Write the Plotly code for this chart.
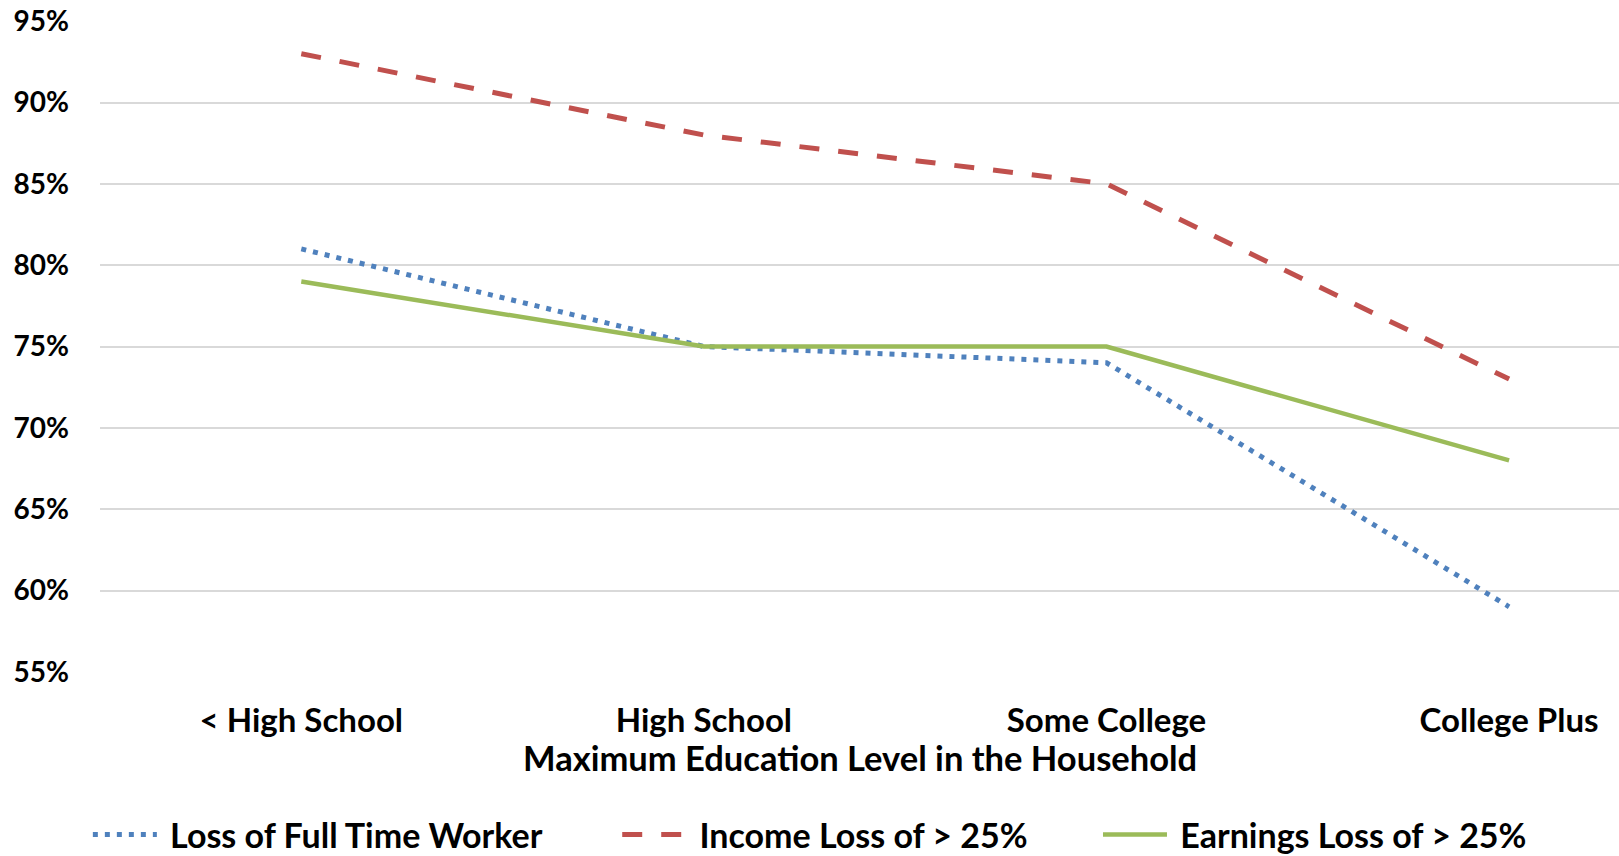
import plotly.graph_objects as go

categories = ["< High School", "High School", "Some College", "College Plus"]
loss_full_time = [0.81, 0.75, 0.74, 0.59]
income_loss = [0.93, 0.88, 0.85, 0.73]
earnings_loss = [0.79, 0.75, 0.75, 0.68]
series_names = ["Loss of Full Time Worker", "Income Loss of > 25%", "Earnings Loss of > 25%"]
y_ticks = [0.55, 0.60, 0.65, 0.70, 0.75, 0.80, 0.85, 0.90, 0.95]
y_tick_labels = ["55%", "60%", "65%", "70%", "75%", "80%", "85%", "90%", "95%"]

FONT = "Lato"
NBSP = "\u00a0"
xpos = list(range(len(categories)))

fig = go.Figure()
fig.add_trace(go.Scatter(
    x=xpos, y=loss_full_time, mode="lines", name=NBSP + series_names[0],
    line=dict(color="#4F81BD", width=5, dash="5px,7px"), legend="legend"))
fig.add_trace(go.Scatter(
    x=xpos, y=income_loss, mode="lines", name=NBSP + series_names[1],
    line=dict(color="#C0504D", width=5, dash="20px,19px"), legend="legend2"))
fig.add_trace(go.Scatter(
    x=xpos, y=earnings_loss, mode="lines", name=NBSP + series_names[2],
    line=dict(color="#9BBB59", width=4.5), legend="legend3"))

legend_common = dict(orientation="h", yanchor="bottom", xanchor="left",
                     font=dict(family=FONT, size=34, color="#000000", weight="bold"),
                     bgcolor="rgba(0,0,0,0)", itemwidth=64)

LEG_Y = -192 / 651

fig.update_layout(
    width=1619, height=856,
    margin=dict(l=100, r=0, t=21, b=184, autoexpand=False),
    paper_bgcolor="white", plot_bgcolor="white",
    font=dict(family=FONT, size=28, color="#000000"),
    xaxis=dict(
        range=[-0.5, 3.273], tickmode="array", tickvals=xpos, ticktext=categories,
        showgrid=False, zeroline=False, showline=False, ticks="", automargin=False,
        tickfont=dict(family=FONT, size=33, color="#000000", weight="bold"),
        ticklabelstandoff=26,
    ),
    yaxis=dict(
        range=[0.5499, 0.9501], tickmode="array", tickvals=y_ticks, ticktext=y_tick_labels,
        showgrid=True, gridcolor="#D9D9D9", gridwidth=1.5, zeroline=False, showline=False,
        ticks="", automargin=False,
        tickfont=dict(family=FONT, size=28, color="#000000", weight="bold"),
        ticklabelstandoff=30,
    ),
    showlegend=True,
    legend=dict(legend_common, x=-0.008, y=LEG_Y),
    legend2=dict(legend_common, x=0.3405, y=LEG_Y),
    legend3=dict(legend_common, x=0.657, y=LEG_Y),
    annotations=[dict(
        text="<b>Maximum Education Level in the Household</b>", xref="paper", yref="paper",
        x=0.5, y=-85 / 651, xanchor="center", yanchor="middle", showarrow=False,
        font=dict(family=FONT, size=34.5, color="#000000"))],
)

fig.write_html("out.html")
